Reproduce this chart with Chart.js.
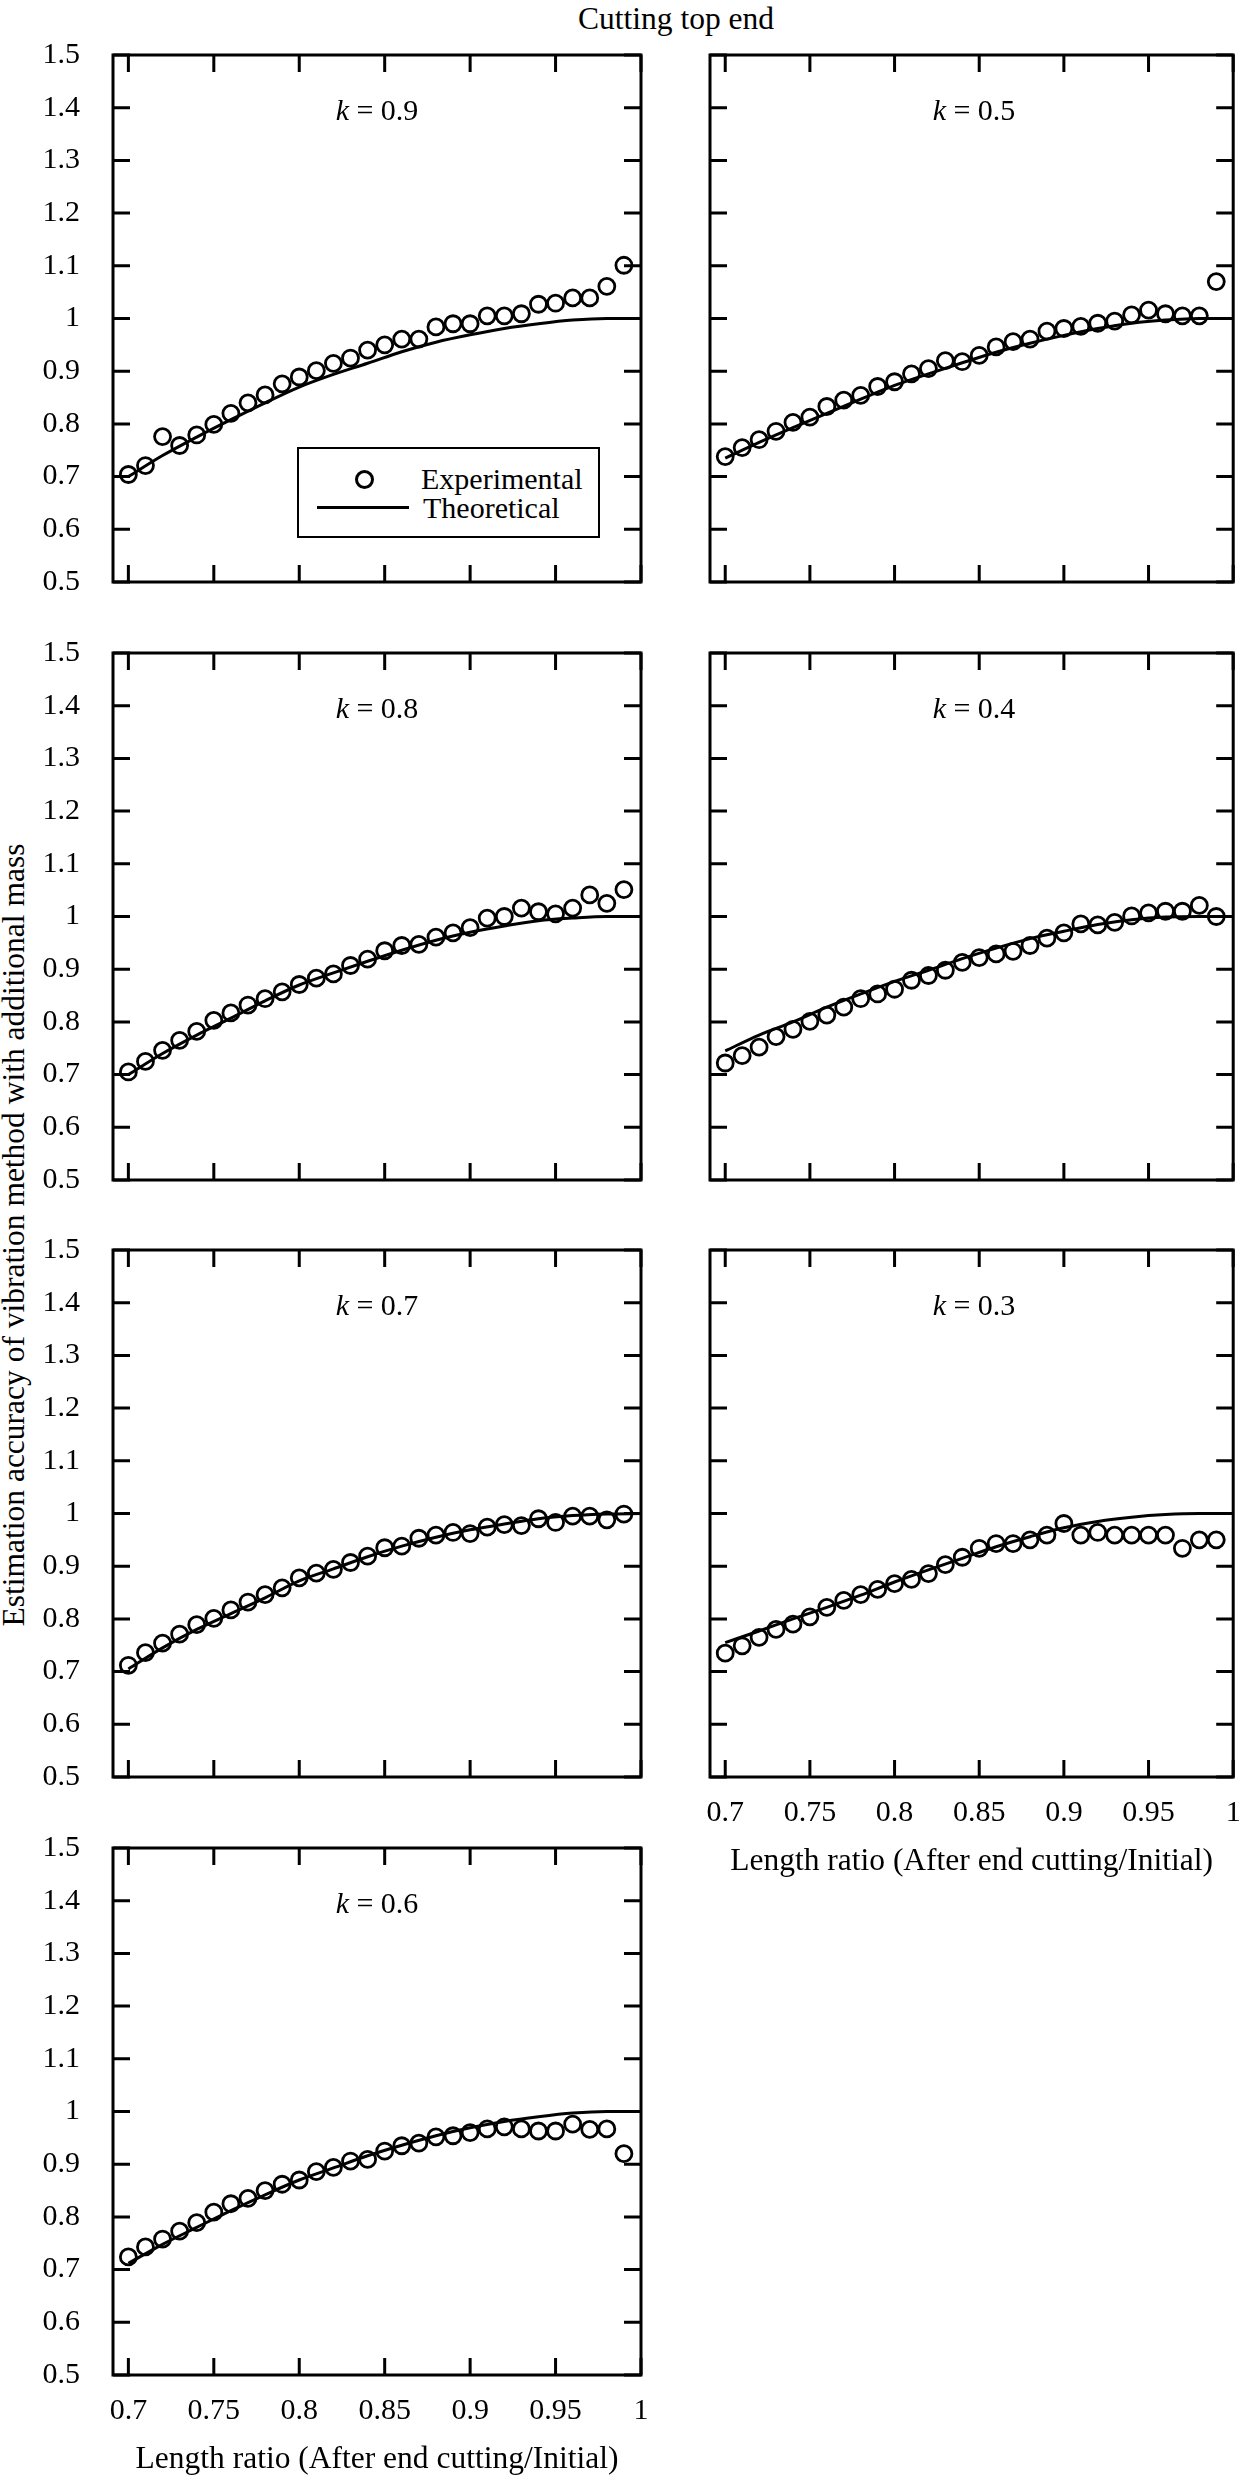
<!DOCTYPE html>
<html>
<head>
<meta charset="utf-8">
<script src="https://cdn.jsdelivr.net/npm/chart.js@4.4.1/dist/chart.umd.min.js"></script>
<style>
  html, body { margin: 0; padding: 0; background: #fff; }
  body { width: 1244px; height: 2482px; position: relative; overflow: hidden;
         font-family: "Liberation Serif", "Times New Roman", serif; color: #000; }
  canvas { position: absolute; }
  .txt { position: absolute; font-size: 30px; line-height: 30px; white-space: nowrap; }
  .tit { font-size: 31.5px; }
  .klab { width: 240px; text-align: center; }
  #legendBox { position: absolute; left: 297px; top: 447px; width: 303px; height: 91px;
               border: 2px solid #000; box-sizing: border-box; background: #fff; }
  #legCircle { position: absolute; left: 355px; top: 470px; width: 19px; height: 19px;
               border: 3px solid #000; border-radius: 50%; box-sizing: border-box; }
  #legLine { position: absolute; left: 317px; top: 506px; width: 92px; height: 3px; background: #000; }
</style>
</head>
<body>

<div class="txt tit" style="left:376px; width:600px; text-align:center; top:4px;">Cutting top end</div>
<div class="txt tit" style="left:-486px; width:1000px; text-align:center; top:1220px; transform:rotate(-90deg);">Estimation accuracy of vibration method with additional mass</div>

<div id="panels"></div>

<div id="legendBox"></div>
<div id="legCircle"></div>
<div id="legLine"></div>
<div class="txt" style="left:421px; top:464px;">Experimental</div>
<div class="txt" style="left:423px; top:493px;">Theoretical</div>

<script>
// Datos
const xExp = [0.70, 0.71, 0.72, 0.73, 0.74, 0.75, 0.76, 0.77, 0.78, 0.79,
              0.80, 0.81, 0.82, 0.83, 0.84, 0.85, 0.86, 0.87, 0.88, 0.89,
              0.90, 0.91, 0.92, 0.93, 0.94, 0.95, 0.96, 0.97, 0.98, 0.99];
const xTheo = [0.70, 0.72, 0.74, 0.76, 0.78, 0.80, 0.82, 0.84, 0.86, 0.88,
               0.90, 0.92, 0.94, 0.96, 0.98, 1.00];
const xTicks = [0.7, 0.75, 0.8, 0.85, 0.9, 0.95, 1];
const yTicks = [0.5, 0.6, 0.7, 0.8, 0.9, 1, 1.1, 1.2, 1.3, 1.4, 1.5];
const kValues = ["0.9", "0.5", "0.8", "0.4", "0.7", "0.3", "0.6"];

const expK09 = [0.704, 0.721, 0.776, 0.759, 0.779, 0.799, 0.820, 0.840, 0.855, 0.876,
                0.889, 0.901, 0.915, 0.925, 0.940, 0.950, 0.961, 0.961, 0.984, 0.990,
                0.990, 1.005, 1.005, 1.009, 1.027, 1.029, 1.039, 1.039, 1.061, 1.101];
const theoK09 = [0.700, 0.740, 0.775, 0.808, 0.840, 0.870, 0.894, 0.915, 0.937, 0.955,
                 0.969, 0.981, 0.990, 0.997, 1.000, 1.000];

const expK05 = [0.738, 0.755, 0.770, 0.786, 0.803, 0.813, 0.833, 0.845, 0.854, 0.871,
                0.880, 0.895, 0.905, 0.920, 0.918, 0.930, 0.946, 0.956, 0.961, 0.976,
                0.981, 0.985, 0.991, 0.995, 1.007, 1.016, 1.009, 1.005, 1.005, 1.070];
const theoK05 = [0.735, 0.765, 0.793, 0.820, 0.847, 0.873, 0.895, 0.916, 0.936, 0.953,
                 0.968, 0.981, 0.991, 0.997, 1.000, 1.000];

const expK08 = [0.705, 0.725, 0.746, 0.765, 0.782, 0.803, 0.817, 0.832, 0.844, 0.857,
                0.871, 0.883, 0.891, 0.907, 0.919, 0.935, 0.945, 0.947, 0.961, 0.969,
                0.979, 0.997, 1.000, 1.016, 1.009, 1.005, 1.016, 1.041, 1.025, 1.051];
const theoK08 = [0.700, 0.740, 0.775, 0.807, 0.840, 0.870, 0.893, 0.915, 0.936, 0.955,
                 0.970, 0.982, 0.992, 0.997, 1.000, 1.000];

const expK04 = [0.722, 0.736, 0.752, 0.772, 0.786, 0.801, 0.813, 0.828, 0.844, 0.853,
                0.862, 0.879, 0.888, 0.898, 0.913, 0.922, 0.929, 0.934, 0.945, 0.959,
                0.969, 0.986, 0.984, 0.989, 1.001, 1.007, 1.010, 1.010, 1.021, 1.000];
const theoK04 = [0.745, 0.775, 0.800, 0.828, 0.853, 0.877, 0.898, 0.920, 0.940, 0.958,
                 0.972, 0.985, 0.994, 0.999, 1.000, 1.000];

const expK07 = [0.712, 0.736, 0.754, 0.771, 0.789, 0.801, 0.817, 0.832, 0.846, 0.859,
                0.878, 0.887, 0.894, 0.907, 0.919, 0.935, 0.938, 0.953, 0.959, 0.964,
                0.962, 0.974, 0.979, 0.977, 0.990, 0.983, 0.995, 0.995, 0.988, 0.999];
const theoK07 = [0.705, 0.745, 0.780, 0.810, 0.840, 0.872, 0.895, 0.918, 0.938, 0.955,
                 0.969, 0.980, 0.990, 0.996, 0.999, 1.000];

const expK03 = [0.735, 0.749, 0.765, 0.780, 0.790, 0.804, 0.822, 0.835, 0.846, 0.856,
                0.867, 0.875, 0.886, 0.903, 0.917, 0.934, 0.943, 0.943, 0.950, 0.959,
                0.981, 0.959, 0.964, 0.959, 0.959, 0.959, 0.959, 0.934, 0.950, 0.950];
const theoK03 = [0.755, 0.777, 0.800, 0.822, 0.845, 0.870, 0.893, 0.915, 0.937, 0.956,
                 0.973, 0.985, 0.993, 0.998, 1.000, 1.000];

const expK06 = [0.724, 0.743, 0.758, 0.773, 0.789, 0.809, 0.825, 0.835, 0.850, 0.862,
                0.870, 0.886, 0.894, 0.906, 0.909, 0.925, 0.935, 0.940, 0.952, 0.954,
                0.960, 0.967, 0.971, 0.967, 0.963, 0.963, 0.976, 0.966, 0.967, 0.920];
const theoK06 = [0.712, 0.748, 0.780, 0.812, 0.842, 0.870, 0.893, 0.916, 0.936, 0.954,
                 0.969, 0.981, 0.990, 0.997, 1.000, 1.000];

const xTitle = "Length ratio (After end cutting/Initial)";

// paneles: columna, fila, datos
const paneles = [
  { col: 0, row: 0, k: kValues[0], exp: expK09, theo: theoK09, xLab: false },
  { col: 1, row: 0, k: kValues[1], exp: expK05, theo: theoK05, xLab: false },
  { col: 0, row: 1, k: kValues[2], exp: expK08, theo: theoK08, xLab: false },
  { col: 1, row: 1, k: kValues[3], exp: expK04, theo: theoK04, xLab: false },
  { col: 0, row: 2, k: kValues[4], exp: expK07, theo: theoK07, xLab: false },
  { col: 1, row: 2, k: kValues[5], exp: expK03, theo: theoK03, xLab: true },
  { col: 0, row: 3, k: kValues[6], exp: expK06, theo: theoK06, xLab: true },
];

const rowTops = [55, 653, 1250, 1848];
const plotH = 527;
const cols = [
  { canvasLeft: 0,   width: 660, axisW: 113, padR: 19, center: 377 },
  { canvasLeft: 690, width: 554, axisW: 20,  padR: 6,  center: 974 },
];

const fuente = { family: "'Liberation Serif', 'Times New Roman', serif", size: 30 };
const fuenteTit = { family: "'Liberation Serif', 'Times New Roman', serif", size: 31.5 };

// marco y marcas hacia dentro
const marcoPlugin = {
  id: "marco",
  afterDatasetsDraw(chart) {
    const { ctx, chartArea: a, scales: { x, y } } = chart;
    const len = 17;
    ctx.save();
    ctx.strokeStyle = "#000";
    ctx.lineWidth = 3;
    ctx.beginPath();
    x.ticks.forEach(t => {
      const px = x.getPixelForValue(t.value);
      ctx.moveTo(px, a.bottom); ctx.lineTo(px, a.bottom - len);
      ctx.moveTo(px, a.top); ctx.lineTo(px, a.top + len);
    });
    y.ticks.forEach(t => {
      const py = y.getPixelForValue(t.value);
      ctx.moveTo(a.left, py); ctx.lineTo(a.left + len, py);
      ctx.moveTo(a.right, py); ctx.lineTo(a.right - len, py);
    });
    ctx.stroke();
    ctx.strokeRect(a.left, a.top, a.right - a.left, a.bottom - a.top);
    ctx.restore();
  }
};

const cont = document.getElementById("panels");

paneles.forEach(p => {
  const c = cols[p.col];
  const top = rowTops[p.row];
  const xAxisH = p.xLab ? 110 : 0;
  const h = 20 + plotH + xAxisH + 20;

  const canvas = document.createElement("canvas");
  canvas.width = c.width;
  canvas.height = h;
  canvas.style.left = c.canvasLeft + "px";
  canvas.style.top = (top - 20) + "px";
  canvas.style.width = c.width + "px";
  canvas.style.height = h + "px";
  cont.appendChild(canvas);

  const lab = document.createElement("div");
  lab.className = "txt klab";
  lab.style.left = (c.center - 120) + "px";
  lab.style.top = (top + 40) + "px";
  lab.innerHTML = "<i>k</i> = " + p.k;
  cont.appendChild(lab);

  new Chart(canvas, {
    type: "scatter",
    data: {
      datasets: [
        {
          label: "Theoretical",
          type: "line",
          data: xTheo.map((x, i) => ({ x: x, y: p.theo[i] })),
          borderColor: "#000",
          borderWidth: 3,
          pointRadius: 0,
          cubicInterpolationMode: "monotone",
          fill: false,
          clip: false,
        },
        {
          label: "Experimental",
          data: xExp.map((x, i) => ({ x: x, y: p.exp[i] })),
          pointStyle: "circle",
          pointRadius: 8,
          pointBorderWidth: 2.8,
          borderColor: "#000",
          backgroundColor: "rgba(0,0,0,0)",
          clip: false,
        },
      ],
    },
    options: {
      responsive: false,
      animation: false,
      devicePixelRatio: 1,
      layout: { padding: { top: 20, right: c.padR, bottom: 20, left: 0 } },
      plugins: { legend: { display: false }, tooltip: { enabled: false } },
      scales: {
        x: {
          type: "linear",
          min: 0.691,
          max: 1.0,
          grid: { display: false },
          border: { display: false },
          afterBuildTicks: s => { s.ticks = xTicks.map(v => ({ value: v })); },
          afterFit: s => { s.height = xAxisH; s.paddingLeft = 0; s.paddingRight = 0; },
          ticks: {
            display: p.xLab,
            padding: 10,
            color: "#000",
            font: fuente,
            maxRotation: 0,
            autoSkip: false,
            callback: v => String(v),
          },
          title: {
            display: p.xLab,
            text: xTitle,
            color: "#000",
            font: fuenteTit,
            padding: { top: 0, bottom: 6 },
          },
        },
        y: {
          type: "linear",
          min: 0.5,
          max: 1.5,
          grid: { display: false },
          border: { display: false },
          afterBuildTicks: s => { s.ticks = yTicks.map(v => ({ value: v })); },
          afterFit: s => { s.width = c.axisW; s.paddingTop = 0; s.paddingBottom = 0; },
          ticks: {
            display: p.col === 0,
            padding: 25,
            color: "#000",
            font: fuente,
            autoSkip: false,
            callback: v => String(v),
          },
        },
      },
    },
    plugins: [marcoPlugin],
  });
});
</script>
</body>
</html>
